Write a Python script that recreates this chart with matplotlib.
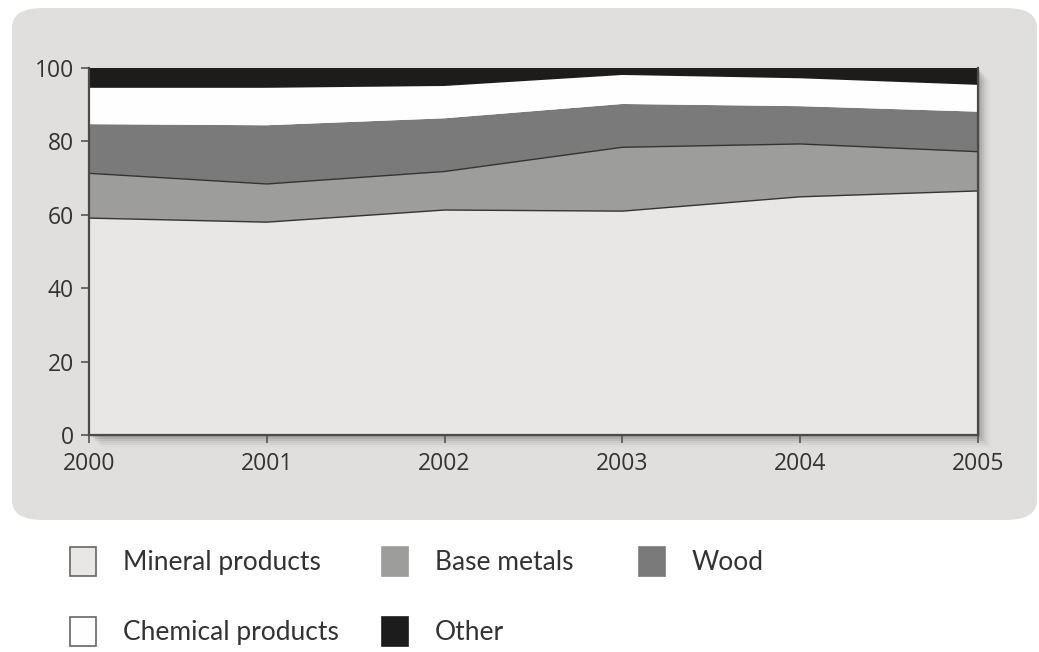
import numpy as np
import matplotlib.pyplot as plt
from matplotlib.patches import FancyBboxPatch, Rectangle, Patch

years = [2000, 2001, 2002, 2003, 2004, 2005]

mineral = [59.1, 58.0, 61.3, 61.0, 64.9, 66.5]
base_metals = [12.2, 10.4, 10.5, 17.4, 14.4, 10.7]
wood = [13.4, 16.0, 14.5, 11.8, 10.3, 10.9]
chemical = [9.9, 10.2, 8.8, 7.9, 7.6, 7.3]
other = [5.4, 5.4, 4.9, 1.9, 2.8, 4.6]

labels = ["Mineral products", "Base metals", "Wood", "Chemical products", "Other"]
colors = ["#e8e7e5", "#9d9e9c", "#7a7a7a", "#fefefe", "#1c1c1c"]

W, H = 1039, 652
fig = plt.figure(figsize=(W / 100, H / 100), dpi=100)
fig.patch.set_facecolor("white")

# grey rounded panel behind the chart
panel = FancyBboxPatch((12 / W, 132 / H), 1025 / W, 512 / H,
                       boxstyle="round,pad=0,rounding_size=0.03",
                       transform=fig.transFigure, facecolor="#e0dfdd",
                       edgecolor="none", zorder=0)
fig.patches.append(panel)

x0, x1, y0, y1 = 89, 978, 217, 584
# soft shadow right/bottom of the plot
for i, a in enumerate([0.10, 0.08, 0.06, 0.04, 0.03, 0.02]):
    off = 2 + 2 * i
    fig.patches.append(Rectangle(((x0 + off) / W, (y0 - off) / H),
                                 (x1 - x0) / W, (y1 - y0) / H,
                                 transform=fig.transFigure, facecolor="black",
                                 alpha=a, edgecolor="none", zorder=1))

ax = fig.add_axes([x0 / W, y0 / H, (x1 - x0) / W, (y1 - y0) / H])
ax.set_zorder(2)

series = [mineral, base_metals, wood, chemical, other]
ax.stackplot(years, series, colors=colors, edgecolor="none", linewidth=0)
cum = np.cumsum(series, axis=0)
ax.plot(years, cum[0], color="#333333", lw=1)
ax.plot(years, cum[1], color="#333333", lw=1)

ax.set_xlim(2000, 2005)
ax.set_ylim(0, 100)
ax.set_xticks(years)
ax.set_yticks([0, 20, 40, 60, 80, 100])

for s in ["left", "bottom", "right"]:
    ax.spines[s].set_color("#4a4a4a")
    ax.spines[s].set_linewidth(1.6)
ax.spines["top"].set_visible(False)

ax.tick_params(axis="both", direction="out", length=6, width=1.2,
               color="#555555", labelcolor="#333333", labelsize=16.5)
ax.tick_params(axis="y", pad=5)
ax.tick_params(axis="x", pad=6)
for t in ax.get_xticklabels() + ax.get_yticklabels():
    t.set_fontfamily("Open Sans")

# legend, one column at a time
cols = [[0, 3], [1, 4], [2]]
col_x = [46, 358, 615]
for col, lx in zip(cols, col_x):
    handles = [Patch(facecolor=colors[i], edgecolor="#666666" if i in (0, 3) else colors[i],
                     linewidth=1.2) for i in col]
    leg = fig.legend(handles, [labels[i] for i in col],
                     loc="upper left", bbox_to_anchor=(lx / W, 1 - 523 / H),
                     frameon=False, handlelength=1.0, handleheight=1.3,
                     handletextpad=1.0, labelspacing=1.58,
                     prop={"family": "Lato", "size": 19})
    for t in leg.get_texts():
        t.set_color("#333333")

fig.savefig("out.png", dpi=100)
